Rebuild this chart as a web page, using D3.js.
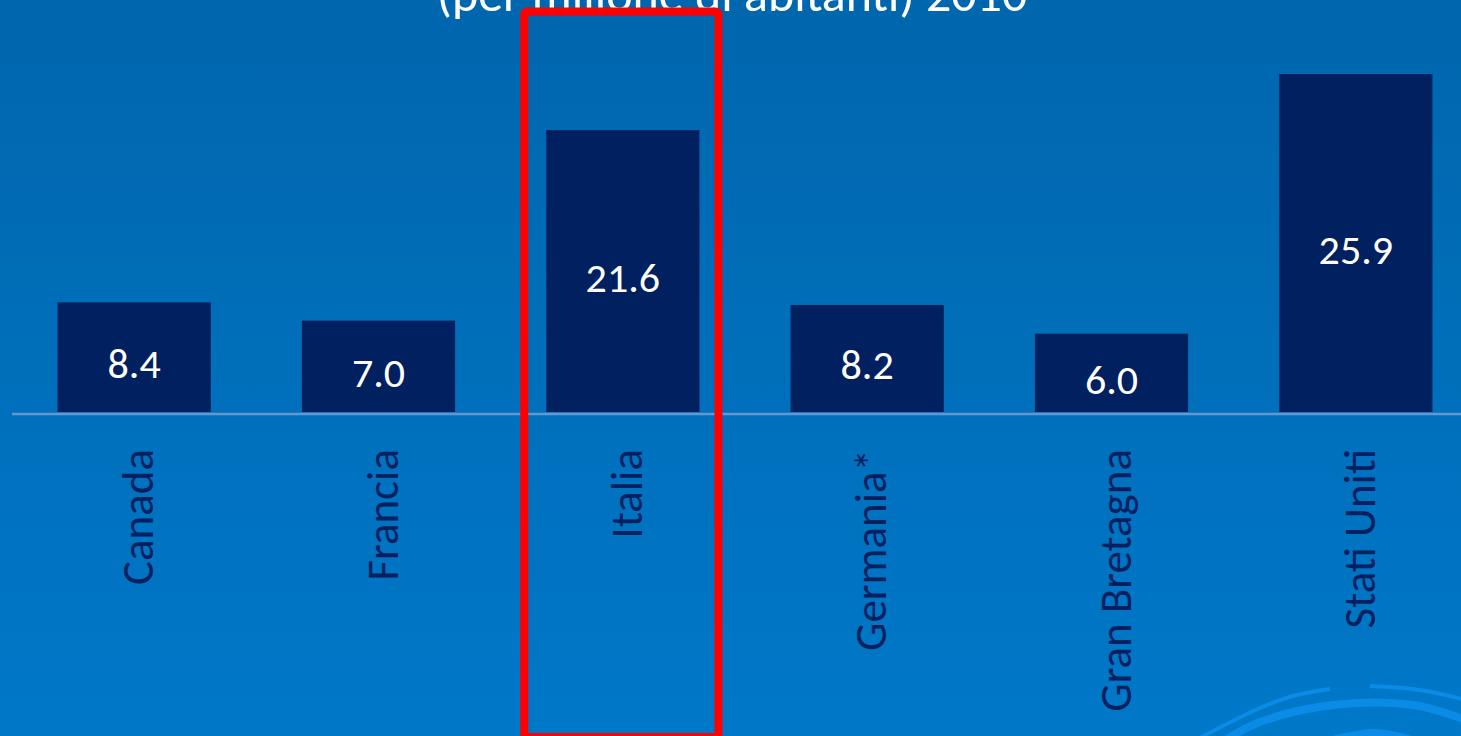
<!DOCTYPE html>
<html>
<head>
<meta charset="utf-8">
<script src="https://cdn.jsdelivr.net/npm/d3@7"></script>
<style>
  html, body { margin: 0; padding: 0; overflow: hidden; }
  svg { display: block; }
</style>
</head>
<body>
<div id="chart"></div>
<script>
// Data
const countries = ["Canada", "Francia", "Italia", "Germania*", "Gran Bretagna", "Stati Uniti"];
const values = [8.4, 7.0, 21.6, 8.2, 6.0, 25.9];
const highlighted = "Italia";
const titleText = "(per milione di abitanti) 2010";

const W = 1461, H = 736;
const baseY = 412;
const fontFam = "Carlito, Lato, 'Open Sans', sans-serif";

const svg = d3.select("#chart").append("svg")
    .attr("width", W)
    .attr("height", H);

// background gradient
const defs = svg.append("defs");
const grad = defs.append("linearGradient").attr("id", "bg").attr("x1", 0).attr("y1", 0).attr("x2", 0).attr("y2", 1);
grad.append("stop").attr("offset", "0%").attr("stop-color", "#0066ad");
grad.append("stop").attr("offset", "100%").attr("stop-color", "#0078c8");
svg.append("rect").attr("width", W).attr("height", H).attr("fill", "url(#bg)");

// decorative swirl, bottom right
const swirl = d3.line().curve(d3.curveCatmullRom);
const swirlLines = [
    { pts: [[1192, 742], [1260, 708], [1293, 696], [1330, 689]], w: 4 },
    { pts: [[1370, 686], [1420, 690], [1466, 700]], w: 4 },
    { pts: [[1222, 742], [1260, 722], [1333, 705], [1413, 705], [1466, 720]], w: 8 },
    { pts: [[1318, 744], [1373, 733], [1418, 742]], w: 8 }
];
svg.append("g").selectAll("path").data(swirlLines).enter().append("path")
    .attr("d", d => swirl(d.pts))
    .attr("fill", "none")
    .attr("stroke", "#0a8ce6")
    .attr("stroke-width", d => d.w);

// title (cut off at the top, as in the original slide)
svg.append("text")
    .attr("x", 732).attr("y", 11)
    .attr("text-anchor", "middle")
    .attr("fill", "#ffffff")
    .style("font-family", fontFam)
    .style("font-size", "50px")
    .text(titleText);

// scales
const x = d3.scaleBand().domain(countries).range([12, 1478]).paddingInner(0.373).paddingOuter(0.1865);
const y = d3.scaleLinear().domain([0, 25.9]).range([baseY, 74]);

// bars
svg.selectAll(".bar").data(countries).enter().append("rect")
    .attr("class", "bar")
    .attr("x", d => x(d))
    .attr("y", (d, i) => y(values[i]))
    .attr("width", x.bandwidth())
    .attr("height", (d, i) => y(0) - y(values[i]))
    .attr("fill", "#00205f");

// axis line
svg.append("line")
    .attr("x1", 12).attr("x2", W)
    .attr("y1", baseY + 2).attr("y2", baseY + 2)
    .attr("stroke", "#6a95cc")
    .attr("stroke-width", 2.5);

// value labels
svg.selectAll(".val").data(countries).enter().append("text")
    .attr("class", "val")
    .attr("x", d => x(d) + x.bandwidth() / 2)
    .attr("y", (d, i) => (y(values[i]) + y(0)) / 2)
    .attr("dy", "0.5em")
    .attr("text-anchor", "middle")
    .attr("fill", "#ffffff")
    .style("font-family", fontFam)
    .style("font-size", "42px")
    .text((d, i) => d3.format(".1f")(values[i]));

// category labels, rotated
svg.selectAll(".cat").data(countries).enter().append("text")
    .attr("class", "cat")
    .attr("transform", d => `translate(${x(d) + x.bandwidth() / 2 + 19},449) rotate(-90)`)
    .attr("text-anchor", "end")
    .attr("fill", "#00205f")
    .style("font-family", fontFam)
    .style("font-size", "45px")
    .text(d => d);

// red highlight box
svg.append("rect")
    .attr("x", x(highlighted) - 22)
    .attr("y", 11.5)
    .attr("width", x.bandwidth() + 41)
    .attr("height", 725.5)
    .attr("rx", 3)
    .attr("fill", "none")
    .attr("stroke", "#ff0000")
    .attr("stroke-width", 8);
</script>
</body>
</html>
